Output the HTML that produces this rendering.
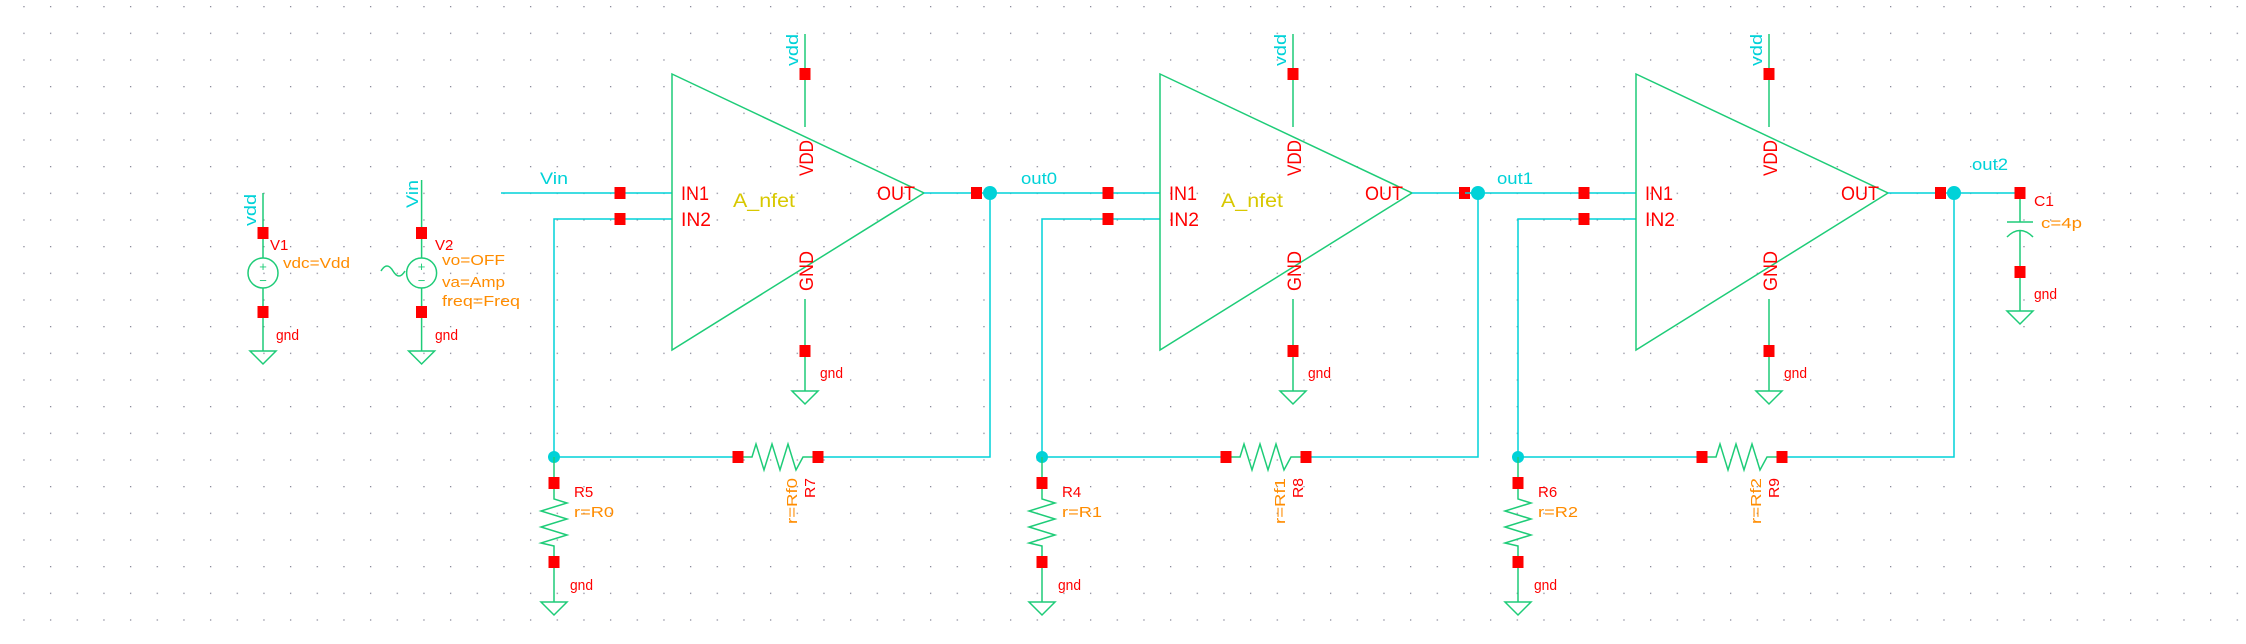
<!DOCTYPE html>
<html><head><meta charset="utf-8"><style>
html,body{margin:0;padding:0;background:#fff;}
svg{display:block}
text{font-family:"Liberation Sans",sans-serif;}
.w{stroke:#00d2d8;stroke-width:1.5;fill:none}
.g{stroke:#1ecc78;stroke-width:1.5;fill:none}
.sq{fill:#ff0000}
.red{fill:#ff0000;font-size:15px}
.org{fill:#ff8c00;font-size:15px}
.cy{fill:#00d2d8;font-size:17px}
.pin{fill:#ff0000;font-size:19px}
</style></head><body>
<svg width="2246" height="644" viewBox="0 0 2246 644" xmlns="http://www.w3.org/2000/svg">
<defs>
<pattern id="grid" x="23.3" y="6" width="26.667" height="26.667" patternUnits="userSpaceOnUse"><rect x="0" y="0" width="1.3" height="1.3" fill="#8a8a9a"/></pattern>
<g id="gndsym"><path class="g" d="M-13,0 L13,0 L0,13 Z"/></g>
</defs>
<rect width="2246" height="644" fill="url(#grid)"/>

<!-- V1 -->
<g>
<path class="g" d="M263,193 L263,258 M263,288 L263,351"/>
<circle class="g" cx="263" cy="273" r="15"/>
<text x="263" y="271" fill="#1ecc78" font-size="13" text-anchor="middle">+</text>
<text x="263" y="285" fill="#1ecc78" font-size="13" text-anchor="middle">−</text>
<rect class="sq" x="257.5" y="227" width="11" height="12"/>
<rect class="sq" x="257.5" y="306" width="11" height="12"/>
<use href="#gndsym" x="263" y="351"/>
<text class="cy" transform="translate(256,226) rotate(-90)" textLength="32" lengthAdjust="spacingAndGlyphs">vdd</text>
<text class="red" x="270" y="250">V1</text>
<text class="org" x="283" y="268" textLength="67" lengthAdjust="spacingAndGlyphs">vdc=Vdd</text>
<text class="red" x="276" y="340" textLength="23" lengthAdjust="spacingAndGlyphs">gnd</text>
</g>

<!-- V2 -->
<g>
<path class="g" d="M421.6,180 L421.6,258 M421.6,288 L421.6,351"/>
<circle class="g" cx="421.6" cy="273" r="15"/>
<text x="421.6" y="271" fill="#1ecc78" font-size="13" text-anchor="middle">+</text>
<text x="421.6" y="285" fill="#1ecc78" font-size="13" text-anchor="middle">−</text>
<path class="g" d="M381,271 Q387,261 393,271 Q399,281 405,271"/>
<rect class="sq" x="416" y="227" width="11" height="12"/>
<rect class="sq" x="416" y="306" width="11" height="12"/>
<use href="#gndsym" x="421.6" y="351"/>
<text class="cy" transform="translate(418,208) rotate(-90)" textLength="28" lengthAdjust="spacingAndGlyphs">Vin</text>
<text class="red" x="435" y="250">V2</text>
<text class="org" x="442" y="265" textLength="63" lengthAdjust="spacingAndGlyphs">vo=OFF</text>
<text class="org" x="442" y="287" textLength="63" lengthAdjust="spacingAndGlyphs">va=Amp</text>
<text class="org" x="442" y="306" textLength="78" lengthAdjust="spacingAndGlyphs">freq=Freq</text>
<text class="red" x="435" y="340" textLength="23" lengthAdjust="spacingAndGlyphs">gnd</text>
</g>

<!-- amp stages -->
<g id="stage">
<path class="w" d="M501,193 L672,193 M554,457 L554,219 L672,219"/>
<path class="g" d="M672,74 L672,350 L924,193 Z"/>
<path class="g" d="M805,34 L805,127 M805,299 L805,391"/>
<rect class="sq" x="799.5" y="68" width="11" height="12"/>
<rect class="sq" x="799.5" y="345" width="11" height="12"/>
<use href="#gndsym" x="805" y="391"/>
<text class="red" x="820" y="378" textLength="23" lengthAdjust="spacingAndGlyphs">gnd</text>
<rect class="sq" x="614.5" y="187" width="11" height="12"/>
<rect class="sq" x="614.5" y="213" width="11" height="12"/>
<text class="pin" x="681" y="200" textLength="28" lengthAdjust="spacingAndGlyphs">IN1</text>
<text class="pin" x="681" y="226" textLength="30" lengthAdjust="spacingAndGlyphs">IN2</text>
<text class="pin" x="877" y="200" textLength="38" lengthAdjust="spacingAndGlyphs">OUT</text>
<text class="pin" transform="translate(813,176) rotate(-90)" textLength="36" lengthAdjust="spacingAndGlyphs">VDD</text>
<text class="pin" transform="translate(813,291) rotate(-90)" textLength="40" lengthAdjust="spacingAndGlyphs">GND</text>
<text class="cy" transform="translate(798,66) rotate(-90)" textLength="32" lengthAdjust="spacingAndGlyphs">vdd</text>
<path class="w" d="M924,193 L990,193 L990,457 L818,457 M738,457 L554,457"/>
<rect class="sq" x="971" y="187" width="11" height="12"/>
<circle cx="990" cy="193" r="7" fill="#00d2d8"/>
<circle cx="554" cy="457" r="6" fill="#00d2d8"/>
<path class="g" d="M738,457 L752,457 L756,444 L764,470 L772,444 L780,470 L788,444 L796,470 L803,457 L818,457"/>
<rect class="sq" x="732.5" y="451" width="11" height="12"/>
<rect class="sq" x="812.5" y="451" width="11" height="12"/>
<path class="g" d="M554,457 L554,499 L567,503 L541,511 L567,519 L541,527 L567,535 L541,543 L554,546 L554,602"/>
<rect class="sq" x="548.5" y="477" width="11" height="12"/>
<rect class="sq" x="548.5" y="556" width="11" height="12"/>
<use href="#gndsym" x="554" y="602"/>
<text class="red" x="570" y="590" textLength="23" lengthAdjust="spacingAndGlyphs">gnd</text>
</g>
<text class="org" transform="translate(797,524) rotate(-90)" textLength="46" lengthAdjust="spacingAndGlyphs">r=Rf0</text>
<text class="red" transform="translate(815,498) rotate(-90)" textLength="20" lengthAdjust="spacingAndGlyphs">R7</text>
<text class="red" x="574" y="497">R5</text>
<text class="org" x="574" y="517" textLength="40" lengthAdjust="spacingAndGlyphs">r=R0</text>
<text class="cy" x="540" y="184" textLength="28" lengthAdjust="spacingAndGlyphs">Vin</text>
<text x="733" y="207" fill="#d8c800" font-size="19" textLength="62" lengthAdjust="spacingAndGlyphs">A_nfet</text>

<g transform="translate(488,0)">
<use href="#stage"/>
</g>
<text class="cy" x="1021" y="184" textLength="36" lengthAdjust="spacingAndGlyphs">out0</text>
<text x="1221" y="207" fill="#d8c800" font-size="19" textLength="62" lengthAdjust="spacingAndGlyphs">A_nfet</text>
<text class="org" transform="translate(1285,524) rotate(-90)" textLength="46" lengthAdjust="spacingAndGlyphs">r=Rf1</text>
<text class="red" transform="translate(1303,498) rotate(-90)" textLength="20" lengthAdjust="spacingAndGlyphs">R8</text>
<text class="red" x="1062" y="497">R4</text>
<text class="org" x="1062" y="517" textLength="40" lengthAdjust="spacingAndGlyphs">r=R1</text>

<g transform="translate(964,0)">
<use href="#stage"/>
</g>
<text class="cy" x="1497" y="184" textLength="36" lengthAdjust="spacingAndGlyphs">out1</text>
<text class="org" transform="translate(1761,524) rotate(-90)" textLength="46" lengthAdjust="spacingAndGlyphs">r=Rf2</text>
<text class="red" transform="translate(1779,498) rotate(-90)" textLength="20" lengthAdjust="spacingAndGlyphs">R9</text>
<text class="red" x="1538" y="497">R6</text>
<text class="org" x="1538" y="517" textLength="40" lengthAdjust="spacingAndGlyphs">r=R2</text>
<text class="cy" x="1972" y="170" textLength="36" lengthAdjust="spacingAndGlyphs">out2</text>

<!-- C1 -->
<g>
<path class="w" d="M1954,193 L2020,193"/>
<path class="g" d="M2020,193 L2020,222 M2007,222 L2033,222 M2007,237 Q2020,224 2033,237 M2020,230 L2020,311"/>
<rect class="sq" x="2014.5" y="187" width="11" height="12"/>
<rect class="sq" x="2014.5" y="266" width="11" height="12"/>
<use href="#gndsym" x="2020" y="311"/>
<text class="red" x="2034" y="206" textLength="20" lengthAdjust="spacingAndGlyphs">C1</text>
<text class="org" x="2041" y="228" textLength="41" lengthAdjust="spacingAndGlyphs">c=4p</text>
<text class="red" x="2034" y="299" textLength="23" lengthAdjust="spacingAndGlyphs">gnd</text>
</g>
</svg>
</body></html>
